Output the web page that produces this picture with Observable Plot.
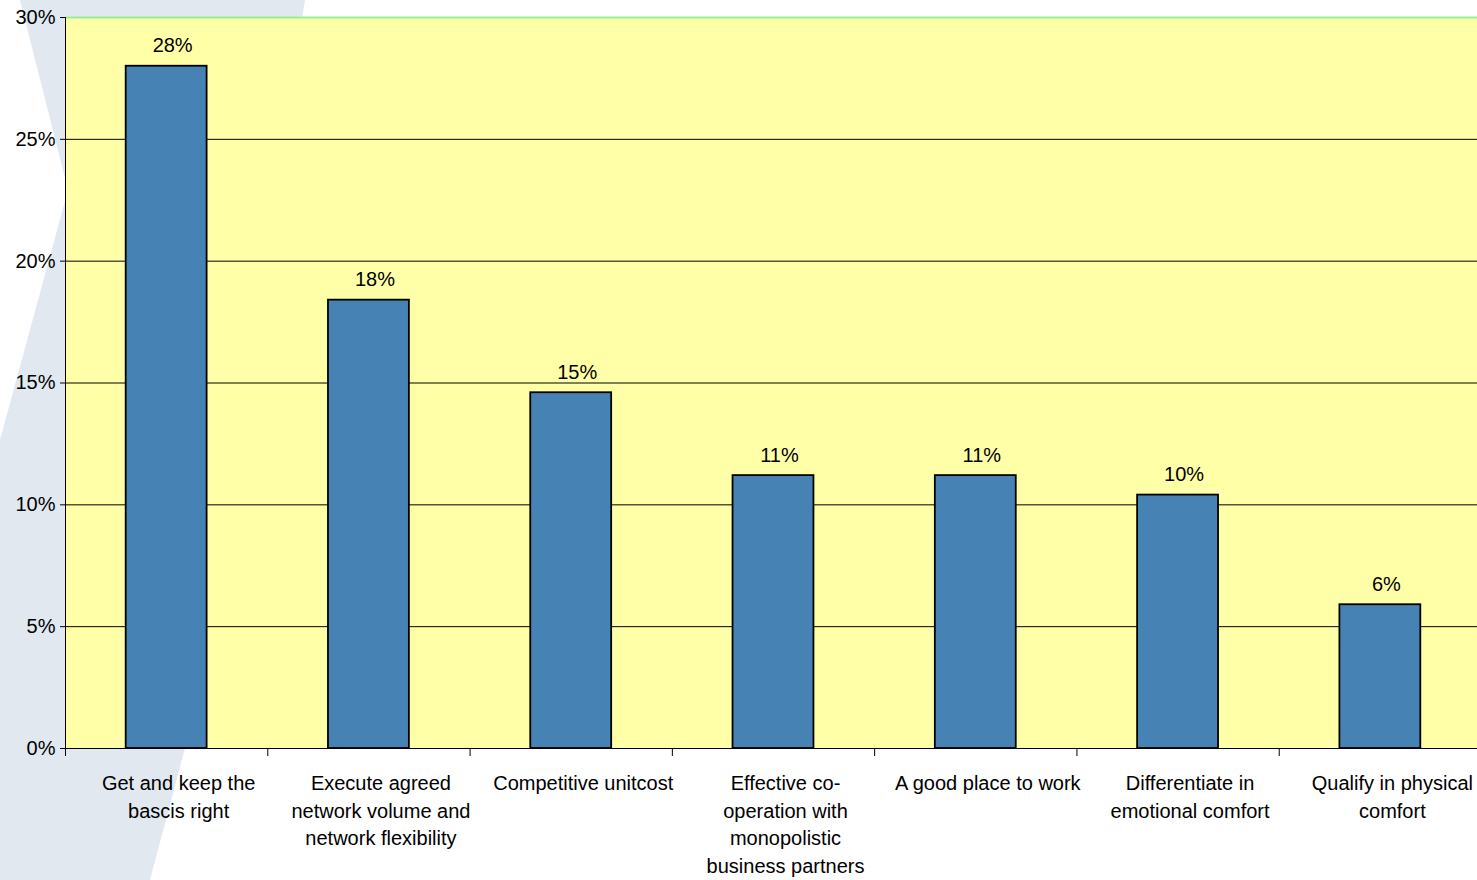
<!DOCTYPE html>
<html>
<head>
<meta charset="utf-8">
<script src="https://cdn.jsdelivr.net/npm/d3@7"></script>
<script src="https://cdn.jsdelivr.net/npm/@observablehq/plot@0.6"></script>
<style>
  html, body { margin: 0; padding: 0; background: #ffffff; }
  #wrap { position: relative; width: 1477px; height: 880px; overflow: hidden; }
  #deco { position: absolute; left: 0; top: 0; width: 1477px; height: 880px; background: #e1e8f0;
    clip-path: polygon(20px 0, 305px 0, 185px 748px, 150px 880px, 0 880px, 0 440px, 68px 190px); }
  #chart { position: absolute; left: 0; top: 0; }
  #chart svg { font-family: "Liberation Sans", Arial, sans-serif; }
</style>
</head>
<body>
<div id="wrap"><div id="deco"></div><div id="chart"></div></div>
<script>
const categories = [
  "Get and keep the bascis right",
  "Execute agreed network volume and network flexibility",
  "Competitive unitcost",
  "Effective co-operation with monopolistic business partners",
  "A good place to work",
  "Differentiate in emotional comfort",
  "Qualify in physical comfort"
];
const tickLabels = [
  "Get and keep the\nbascis right",
  "Execute agreed\nnetwork volume and\nnetwork flexibility",
  "Competitive unitcost",
  "Effective co-\noperation with\nmonopolistic\nbusiness partners",
  "A good place to work",
  "Differentiate in\nemotional comfort",
  "Qualify in physical\ncomfort"
];
const values = [28.0, 18.4, 14.6, 11.2, 11.2, 10.4, 5.9];
const yTicks = [0, 5, 10, 15, 20, 25, 30];

const data = categories.map((c, i) => ({category: c, value: values[i], label: tickLabels[i]}));
const labelOf = new Map(data.map(d => [d.category, d.label]));

const W = 1477, H = 880, ML = 65, MR = -4, MT = 17, MB = 132;
const step = (W - ML - MR) / categories.length;

const chart = Plot.plot({
  width: W,
  height: H,
  marginLeft: ML,
  marginRight: MR,
  marginTop: MT,
  marginBottom: MB,
  style: {background: "transparent", fontFamily: "Liberation Sans, Arial, sans-serif", fontSize: "20px", color: "#000"},
  x: {domain: categories, paddingInner: 0.6, paddingOuter: 0.3, round: false, label: null},
  y: {domain: [0, 30], label: null},
  marks: [
    Plot.frame({fill: "#ffffa8", stroke: null}),
    Plot.gridY(yTicks.slice(1, -1), {stroke: "#000", strokeOpacity: 1, strokeWidth: 1}),
    Plot.ruleY([30], {stroke: "#98ee98", strokeWidth: 2}),
    Plot.barY(data, {x: "category", y: "value", fill: "#4682b4", stroke: "#000", strokeWidth: 1.8}),
    Plot.text(data, {x: "category", y: "value", text: d => `${Math.round(d.value)}%`, lineAnchor: "bottom", dy: -14, dx: 6, fontSize: 20, fill: "#000"}),
    Plot.ruleY([0], {stroke: "#000", strokeWidth: 1}),
    Plot.frame({anchor: "left", stroke: "#000", strokeWidth: 1}),
    Plot.axisY({ticks: yTicks, tickSize: 5, tickPadding: 5, tickFormat: d => `${d}%`, fontSize: 20, stroke: "#000", fill: "#000"}),
    Plot.axisX({ticks: categories, tickSize: 8, tickFormat: () => "", dx: -step / 2, stroke: "#000"}),
    Plot.axisX({ticks: categories, tickSize: 0, tickPadding: 22, tickFormat: d => labelOf.get(d), dx: 12, fontSize: 20, lineHeight: 1.38, fill: "#000"})
  ]
});
document.getElementById("chart").appendChild(chart);
</script>
</body>
</html>
